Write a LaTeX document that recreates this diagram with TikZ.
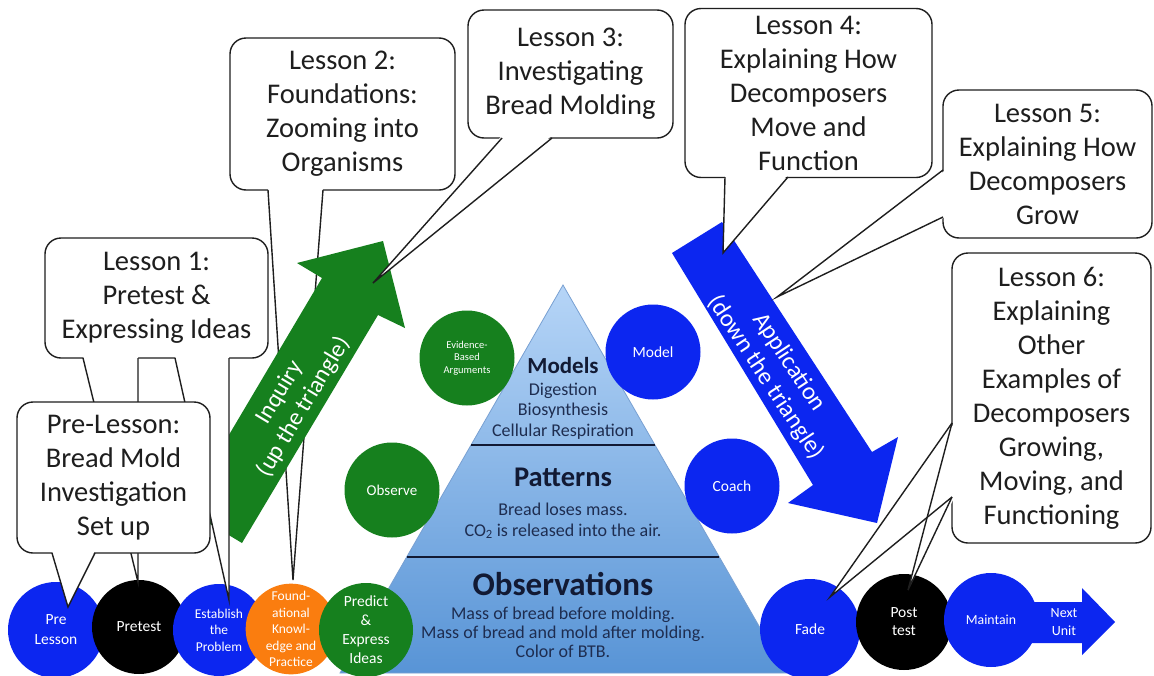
\documentclass[tikz,border=0pt]{standalone}
\usepackage{fontspec}
\setmainfont{Carlito}
\usetikzlibrary{calc}
\definecolor{cblue}{RGB}{12,38,240}
\definecolor{cgreen}{RGB}{22,128,30}
\definecolor{corange}{RGB}{250,125,15}
\definecolor{pyrtop}{RGB}{182,213,247}
\definecolor{pyrbot}{RGB}{88,148,214}
\definecolor{pyredge}{RGB}{120,160,210}
\definecolor{navy}{RGB}{18,26,52}
\definecolor{navytext}{RGB}{30,45,80}
\definecolor{ink}{RGB}{30,30,30}
\begin{document}
\begin{tikzpicture}[x=1pt,y=-1pt,
  calloutbox/.style={draw=ink, line width=1.4pt, fill=white, rounded corners=16pt,
    inner sep=0pt, align=center, text=ink, font=\fontsize{28.5}{34}\selectfont},
  ptrline/.style={draw=ink, line width=1.4pt, line join=miter},
  disc/.style={circle, inner sep=0pt, text=white, align=center,
    font=\fontsize{15.5}{19}\selectfont},
  smalldisc/.style={disc, font=\fontsize{13.5}{16.5}\selectfont},
  ptitle/.style={text=navy, align=center},
  psub/.style={text=navytext, align=center, font=\fontsize{18}{20.5}\selectfont},
  divider/.style={draw=navy, line width=2.5pt},
  arrowtext/.style={text=white, align=center, font=\fontsize{24}{28}\selectfont},
]
\useasboundingbox (0,0) rectangle (1154,675);
\fill[white] (0,0) rectangle (1154,675);

% ---------- pyramid ----------
\coordinate (apex) at (563,285);
\coordinate (pbl) at (340,673);
\coordinate (pbr) at (786,673);
\shadedraw[top color=pyrtop, bottom color=pyrbot, draw=pyredge, line width=0.8pt]
  (apex) -- (pbr) -- (pbl) -- cycle;
\draw[divider] ($(apex)!0.4124!(pbl)$) -- ($(apex)!0.4124!(pbr)$);
\draw[divider] ($(apex)!0.701!(pbl)$) -- ($(apex)!0.701!(pbr)$);
\node[ptitle, font=\bfseries\fontsize{23}{26}\selectfont] (tmodels) at (563,366) {Models};
\node[psub] (smodels) at (563,411) {Digestion\\Biosynthesis\\Cellular Respiration};
\node[ptitle, font=\bfseries\fontsize{28.5}{30}\selectfont] (tpatterns) at (563,477) {Patterns};
\node[psub] (spatterns) at (563,521) {Bread loses mass.\\CO\textsubscript{2} is released into the air.};
\node[ptitle, font=\bfseries\fontsize{33}{36}\selectfont] (tobs) at (563,584) {Observations};
\node[psub, font=\fontsize{18}{19}\selectfont] (sobs) at (563,632) {Mass of bread before molding.\\Mass of bread and mold after molding.\\Color of BTB.};

% ---------- middle circles ----------
\node[disc, fill=cgreen, minimum size=95pt, font=\fontsize{10.5}{12.7}\selectfont] (evid) at (467,358) {Evidence-\\Based\\Arguments};
\node[disc, fill=cblue, minimum size=95pt] (model) at (653,352) {Model};
\node[disc, fill=cgreen, minimum size=95pt, font=\fontsize{15}{18}\selectfont] (observe) at (392,490) {Observe};
\node[disc, fill=cblue, minimum size=95pt] (coach) at (732,486) {Coach};

% ---------- bottom row ----------
\node[disc, fill=cblue, minimum size=96pt, font=\fontsize{15.5}{20}\selectfont] (prelesson) at (56,630) {Pre\\Lesson};
\node[disc, fill=black, minimum size=94pt] (pretest) at (139,627) {Pretest};
\node[smalldisc, fill=cblue, minimum size=92pt] (establish) at (219,630) {Establish\\the\\Problem};
\node[smalldisc, fill=corange, minimum size=90pt] (found) at (291,629) {Found-\\ational\\Knowl-\\edge and\\Practice};
\node[disc, fill=cgreen, minimum size=94pt] (predict) at (366,630) {Predict\\\&\\Express\\Ideas};

\node[disc, fill=cblue, minimum size=100pt] (fade) at (810,629) {Fade};
\node[disc, fill=black, minimum size=96pt, font=\fontsize{15.5}{18}\selectfont] (posttest) at (904,622) {Post\\test};
\node[disc, fill=cblue, minimum size=94pt, font=\fontsize{13.8}{16}\selectfont] (maintain) at (991,620) {Maintain};
\fill[cblue] (1025,602) -- (1082,602) -- (1082,588) -- (1115,622) -- (1082,655) -- (1082,643) -- (1025,643) -- cycle;
\node[text=white, align=center, font=\fontsize{14}{18}\selectfont] (nextunit) at (1064,622) {Next\\Unit};

% ---------- Lesson 2 callout (behind the green arrow) ----------
\node[calloutbox, minimum width=225pt, minimum height=152pt] (L2) at (342.5,114) {Lesson 2:\\Foundations:\\Zooming into\\Organisms};
\coordinate (l2a) at (268,190); \coordinate (l2b) at (323,190); \coordinate (l2tip) at (293,580);
\fill[white] (268,187.5) -- (l2tip) -- (323,187.5) -- cycle;
\draw[ptrline] (l2a) -- (l2tip) -- (l2b);

% ---------- arrows ----------
\fill[cgreen] (242,543) -- (378,315) -- (405,328) -- (383,241) -- (297,263) -- (322,278) -- (185,509) -- cycle;
\node[arrowtext, rotate=59] (inquiry) at (292,400) {Inquiry\\(up the triangle)};

\fill[cblue] (672,253) -- (722,222) -- (872,452) -- (898,437) -- (877,523) -- (788,503) -- (813,485) -- cycle;
\node[arrowtext, font=\fontsize{24.5}{28}\selectfont, rotate=-56.5] (application) at (777,370) {Application\\(down the triangle)};

% ---------- Lesson 1 ----------
\node[calloutbox, minimum width=223pt, minimum height=120pt] (L1) at (156.5,298) {Lesson 1:\\Pretest \&\\Expressing Ideas};
\coordinate (l1a) at (83,358); \coordinate (l1b) at (138,358); \coordinate (l1tip1) at (138,582);
\coordinate (l1c) at (175,358); \coordinate (l1d) at (229,358); \coordinate (l1tip2) at (229,600);
\fill[white] (83,355.5) -- (l1tip1) -- (138,355.5) -- cycle;
\fill[white] (175,355.5) -- (l1tip2) -- (229,355.5) -- cycle;
\draw[ptrline] (l1a) -- (l1tip1) -- (l1b);
\draw[ptrline] (l1c) -- (l1tip2) -- (l1d);

% ---------- Pre-Lesson ----------
\node[calloutbox, minimum width=193pt, minimum height=151pt] (PL) at (113.5,477.5) {Pre-Lesson:\\Bread Mold\\Investigation\\Set up};
\coordinate (pla) at (52,553); \coordinate (plb) at (95,553); \coordinate (pltip) at (68,607);
\fill[white] (52,550.5) -- (pltip) -- (95,550.5) -- cycle;
\draw[ptrline] (pla) -- (pltip) -- (plb);

% ---------- Lesson 3 ----------
\node[calloutbox, minimum width=205pt, minimum height=128pt] (L3) at (570.5,74) {Lesson 3:\\Investigating\\Bread Molding};
\coordinate (l3a) at (502,138); \coordinate (l3b) at (552,138); \coordinate (l3tip) at (373,283);
\fill[white] (502,135.5) -- (l3tip) -- (552,135.5) -- cycle;
\draw[ptrline] (l3a) -- (l3tip) -- (l3b);

% ---------- Lesson 4 ----------
\node[calloutbox, minimum width=247pt, minimum height=169pt] (L4) at (808.5,93) {Lesson 4:\\Explaining How\\Decomposers\\Move and\\Function};
\coordinate (l4a) at (725,177); \coordinate (l4b) at (788,177); \coordinate (l4tip) at (723,253);
\fill[white] (725,174.5) -- (l4tip) -- (788,174.5) -- cycle;
\draw[ptrline] (l4a) -- (l4tip) -- (l4b);

% ---------- Lesson 5 ----------
\node[calloutbox, minimum width=209pt, minimum height=148pt] (L5) at (1047.5,164) {Lesson 5:\\Explaining How\\Decomposers\\Grow};
\coordinate (l5a) at (943,170); \coordinate (l5b) at (943,217); \coordinate (l5tip) at (777,297);
\fill[white] (945.5,170) -- (l5tip) -- (945.5,217) -- cycle;
\draw[ptrline] (l5a) -- (l5tip) -- (l5b);

% ---------- Lesson 6 ----------
\node[calloutbox, minimum width=199pt, minimum height=290pt] (L6) at (1051.5,398) {Lesson 6:\\Explaining\\Other\\Examples of\\Decomposers\\Growing,\\Moving, and\\Functioning};
\coordinate (l6a) at (952,423); \coordinate (l6b) at (952,497);
\coordinate (l6tip1) at (830,597); \coordinate (l6tip2) at (908,590);
\fill[white] (954.5,423) -- (l6tip1) -- (954.5,497) -- cycle;
\fill[white] (954.5,423) -- (l6tip2) -- (954.5,497) -- cycle;
\draw[ptrline] (l6a) -- (l6tip1) -- (l6b);
\draw[ptrline] (l6a) -- (l6tip2) -- (l6b);
\end{tikzpicture}
\end{document}
